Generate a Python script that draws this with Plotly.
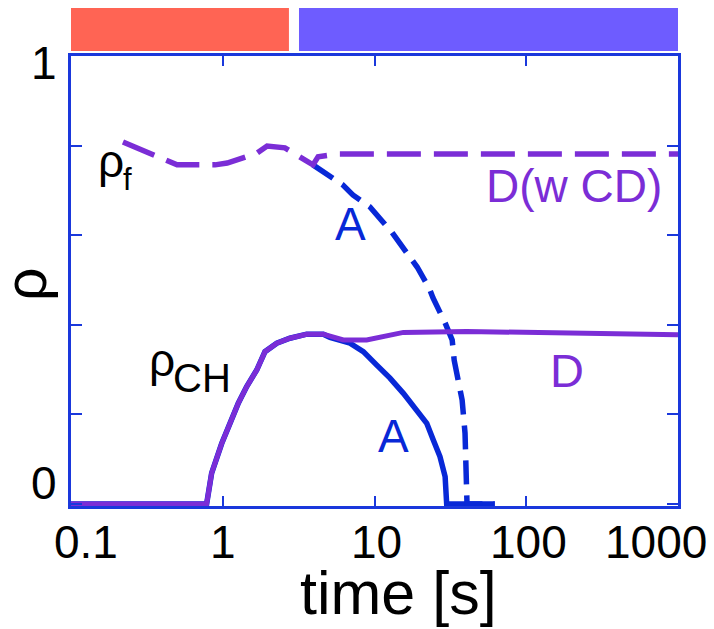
import numpy as np
import plotly.graph_objects as go

# ---------------- data ----------------
# shared rise of rho_CH (both cases)
t_rise = [0.1, 0.783, 0.845, 0.912, 0.984, 1.116, 1.266, 1.438, 1.675, 1.898, 2.27, 2.77, 3.57, 4.60]
rho_rise = [0, 0, 0.069, 0.106, 0.135, 0.180, 0.225, 0.262, 0.299, 0.340, 0.359, 0.370, 0.379, 0.379]

# rho_CH, case D (continues)
t_ch_D = [6.23, 8.88, 12.6, 15.5, 40.5, 1000]
rho_ch_D = [0.366, 0.366, 0.377, 0.383, 0.385, 0.378]

# rho_CH, case A (decays)
t_ch_A = [5.09, 6.90, 8.44, 10.35, 12.65, 15.5, 18.97, 22.1, 24.4, 27.0, 29.2, 29.9, 62]
rho_ch_A = [0.372, 0.359, 0.340, 0.310, 0.281, 0.247, 0.210, 0.180, 0.143, 0.106, 0.061, 0, 0]

# shared rho_f (both cases)
t_f = [0.22, 0.374, 0.50, 0.89, 1.07, 1.68, 1.96, 2.57, 3.08, 3.93]
rho_f = [0.808, 0.775, 0.757, 0.757, 0.761, 0.783, 0.799, 0.795, 0.779, 0.757]

# rho_f, case D (w CD)
t_f_D = [4.25, 5.66, 1000]
rho_f_D = [0.775, 0.781, 0.781]

# rho_f, case A
t_f_A = [6.2, 7.2, 9.34, 11.4, 13.0, 17.1, 19.1, 22.9, 24.3, 29.2, 32.5, 33.5, 35.0, 37.8, 39.5, 40.7, 62]
rho_f_A = [0.712, 0.690, 0.663, 0.629, 0.607, 0.551, 0.529, 0.482, 0.460, 0.404, 0.366, 0.321,
           0.283, 0.232, 0.158, 0, 0]

# phase bars on top (time spans)
phase_starts = [0.1, 3.18]
phase_ends = [2.73, 1000]
phase_colors = ["#FF6454", "#6E5CFF"]

x_tick_vals = [0.1, 1, 10, 100, 1000]
x_tick_text = ["0.1", "1", "10", "100", "1000"]
y_tick_vals = [0, 0.2, 0.4, 0.6, 0.8, 1.0]
y_label_vals = [0, 1]
y_label_text = ["0", "1"]

# ---------------- style ----------------
BLUE = "#0828D7"
PURPLE = "#7B2DD6"
AXIS = "#1A38DC"
FONT = "Liberation Sans, Arial, Helvetica, sans-serif"

W, H = 714, 629
L, R, T, B = 71, 678, 56, 506  # plot area in pixels
DY = -3  # small vertical correction for text placement


def px(x):
    return (x - L) / (R - L)


def py(y):
    return (B - y) / (B - T)


fig = go.Figure()

# case A underneath
fig.add_trace(go.Scatter(x=t_rise + t_ch_A, y=rho_rise + rho_ch_A, mode="lines",
                         line=dict(color=BLUE, width=5.5), hoverinfo="skip", showlegend=False))
fig.add_trace(go.Scatter(x=[t_f[-1]] + t_f_A, y=[rho_f[-1]] + rho_f_A, mode="lines",
                         line=dict(color=BLUE, width=5.5, dash="24px,11px"),
                         hoverinfo="skip", showlegend=False))
# case D on top
fig.add_trace(go.Scatter(x=t_rise + t_ch_D, y=rho_rise + rho_ch_D, mode="lines",
                         line=dict(color=PURPLE, width=5), hoverinfo="skip", showlegend=False))
fig.add_trace(go.Scatter(x=t_f + t_f_D, y=rho_f + rho_f_D, mode="lines",
                         line=dict(color=PURPLE, width=5.5, dash="34px,13px"),
                         hoverinfo="skip", showlegend=False))

# phase bars
shapes = []
for s, e, c in zip(phase_starts, phase_ends, phase_colors):
    x0 = (np.log10(s) + 1) / 4
    x1 = (np.log10(e) + 1) / 4
    shapes.append(dict(type="rect", xref="paper", yref="paper",
                       x0=max(x0, -0.002), x1=x1, y0=py(51), y1=py(8),
                       fillcolor=c, line=dict(width=0), layer="above"))

annotations = []


def ann(text, x, y, size, color="black", xanchor="center", angle=0):
    annotations.append(dict(text=text, x=px(x), y=py(y + DY), xref="paper", yref="paper",
                            showarrow=False, xanchor=xanchor, yanchor="middle",
                            textangle=angle,
                            font=dict(family=FONT, size=size, color=color)))


# x tick labels (edge labels pulled inward as in the reference)
x_label_px = {0.1: 86, 1: 223, 10: 376, 100: 528, 1000: 656}
for v, t in zip(x_tick_vals, x_tick_text):
    ann(t, x_label_px[v], 545, 46)
# y tick labels
y_label_py = {0: 486, 1: 66}
for v, t in zip(y_label_vals, y_label_text):
    ann(t, 44, y_label_py[v], 46)

# axis titles
ann("time [s]", 398, 596, 61)
annotations.append(dict(text="ρ", x=px(26), y=py(284), xref="paper", yref="paper",
                        showarrow=False, xanchor="center", yanchor="middle", textangle=-90,
                        font=dict(family=FONT, size=59, color="black")))

# curve labels
ann("ρ", 96, 164, 46, xanchor="left")
ann("f", 121, 182, 31, xanchor="left")
ann("ρ", 147, 363, 46, xanchor="left")
ann("CH", 171, 381, 40, xanchor="left")
ann("A", 350, 227, 46, color=BLUE)
ann("A", 393, 439, 46, color=BLUE)
ann("D(w CD)", 574, 189, 46, color=PURPLE)
ann("D", 567, 373, 47, color=PURPLE)

fig.update_layout(
    width=W, height=H, autosize=False,
    margin=dict(l=L, r=W - R, t=T, b=H - B, pad=0),
    paper_bgcolor="white", plot_bgcolor="white",
    shapes=shapes, annotations=annotations,
    font=dict(family=FONT, size=46, color="black"),
    xaxis=dict(type="log", range=[-1, 3], showgrid=False, zeroline=False,
               showline=True, linecolor=AXIS, linewidth=2.5, mirror="ticks",
               ticks="inside", ticklen=10, tickwidth=2, tickcolor=AXIS,
               tickvals=x_tick_vals, showticklabels=False),
    yaxis=dict(range=[-0.0045, 1], showgrid=False, zeroline=False,
               showline=True, linecolor=AXIS, linewidth=2.5, mirror="ticks",
               ticks="inside", ticklen=11, tickwidth=2, tickcolor=AXIS,
               tickvals=y_tick_vals, showticklabels=False),
)

fig.write_html("out.html")
